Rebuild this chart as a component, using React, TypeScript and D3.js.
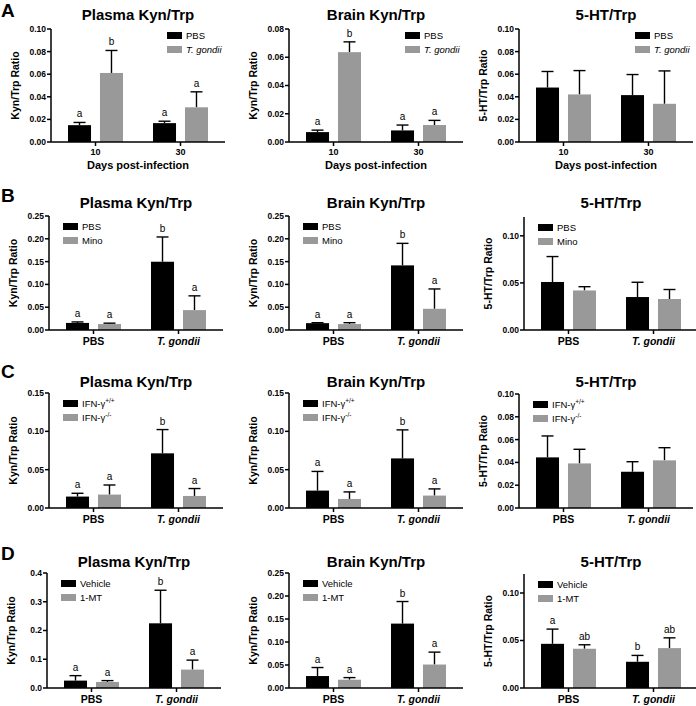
import React from "react";
import * as d3 from "d3";

// ---------- data ----------
const groupsA = ["10", "30"];
const groupsBCD = ["PBS", "T. gondii"];
const seriesA = ["PBS", "T. gondii"];
const seriesB = ["PBS", "Mino"];
const seriesC = ["IFN-γ+/+", "IFN-γ-/-"];
const seriesD = ["Vehicle", "1-MT"];

// values in order: [group1-series1, group1-series2, group2-series1, group2-series2]
const plasmaA = [0.0149, 0.0611, 0.0167, 0.0307];
const plasmaAErr = [0.0024, 0.0199, 0.0017, 0.0137];
const brainA = [0.007, 0.0636, 0.0082, 0.012];
const brainAErr = [0.0014, 0.0073, 0.0038, 0.0033];
const htA = [0.0482, 0.0421, 0.0415, 0.0338];
const htAErr = [0.0142, 0.0211, 0.0182, 0.0291];

const plasmaB = [0.0155, 0.013, 0.1497, 0.0436];
const plasmaBErr = [0.0022, 0.002, 0.0543, 0.0313];
const brainB = [0.015, 0.013, 0.1417, 0.0465];
const brainBErr = [0.001, 0.003, 0.0483, 0.0435];
const htB = [0.051, 0.042, 0.035, 0.0329];
const htBErr = [0.027, 0.004, 0.0157, 0.0101];

const plasmaC = [0.0149, 0.0175, 0.0713, 0.0157];
const plasmaCErr = [0.0043, 0.0125, 0.031, 0.0097];
const brainC = [0.0227, 0.0118, 0.0647, 0.0162];
const brainCErr = [0.025, 0.0092, 0.0372, 0.0087];
const htC = [0.0444, 0.0391, 0.0318, 0.0418];
const htCErr = [0.0188, 0.0124, 0.0088, 0.0111];

const plasmaD = [0.0257, 0.021, 0.225, 0.064];
const plasmaDErr = [0.0173, 0.0047, 0.115, 0.033];
const brainD = [0.026, 0.018, 0.14, 0.051];
const brainDErr = [0.0185, 0.0046, 0.048, 0.027];
const htD = [0.0465, 0.0413, 0.0276, 0.042];
const htDErr = [0.0155, 0.0042, 0.0067, 0.0108];

const lettersKyn = ["a", "b", "a", "a"];
const lettersKyn2 = ["a", "a", "b", "a"];
const lettersHtD = ["a", "ab", "b", "ab"];

const yTicks01 = [0, 0.02, 0.04, 0.06, 0.08, 0.1];
const yTicks008 = [0, 0.02, 0.04, 0.06, 0.08];
const yTicks025 = [0, 0.05, 0.1, 0.15, 0.2, 0.25];
const yTicks015 = [0, 0.05, 0.1, 0.15];
const yTicks012 = [0, 0.05, 0.1];
const yTicks04 = [0, 0.1, 0.2, 0.3, 0.4];

// ---------- layout ----------
const FONT = "'Liberation Sans', Arial, Helvetica, sans-serif";
const PLOT_W = 174;
const BLACK = "#000000";
const GRAY = "#999999";

type Cfg = {
  title: string;
  yTitle: string;
  axisX: number;
  yTop: number;
  yBottom: number;
  yMax: number;
  ticks: number[];
  fmt: string;
  groups: string[];
  series: string[];
  mean: number[];
  err: number[];
  letters?: string[];
  legendRight: boolean;
  xTitle?: string;
  titleY: number;
};

const rows: Cfg[][] = [
  [
    { title: "Plasma Kyn/Trp", yTitle: "Kyn/Trp Ratio", axisX: 51, yTop: 29, yBottom: 142, yMax: 0.1, ticks: yTicks01, fmt: ".2f", groups: groupsA, series: seriesA, mean: plasmaA, err: plasmaAErr, letters: lettersKyn, legendRight: true, xTitle: "Days post-infection", titleY: 20 },
    { title: "Brain Kyn/Trp", yTitle: "Kyn/Trp Ratio", axisX: 289, yTop: 29, yBottom: 142, yMax: 0.08, ticks: yTicks008, fmt: ".2f", groups: groupsA, series: seriesA, mean: brainA, err: brainAErr, letters: lettersKyn, legendRight: true, xTitle: "Days post-infection", titleY: 20 },
    { title: "5-HT/Trp", yTitle: "5-HT/Trp Ratio", axisX: 519, yTop: 29, yBottom: 142, yMax: 0.1, ticks: yTicks01, fmt: ".2f", groups: groupsA, series: seriesA, mean: htA, err: htAErr, legendRight: true, xTitle: "Days post-infection", titleY: 20 },
  ],
  [
    { title: "Plasma Kyn/Trp", yTitle: "Kyn/Trp Ratio", axisX: 49, yTop: 216, yBottom: 330, yMax: 0.25, ticks: yTicks025, fmt: ".2f", groups: groupsBCD, series: seriesB, mean: plasmaB, err: plasmaBErr, letters: lettersKyn2, legendRight: false, titleY: 208 },
    { title: "Brain Kyn/Trp", yTitle: "Kyn/Trp Ratio", axisX: 289, yTop: 216, yBottom: 330, yMax: 0.25, ticks: yTicks025, fmt: ".2f", groups: groupsBCD, series: seriesB, mean: brainB, err: brainBErr, letters: lettersKyn2, legendRight: false, titleY: 208 },
    { title: "5-HT/Trp", yTitle: "5-HT/Trp Ratio", axisX: 524, yTop: 217, yBottom: 330, yMax: 0.12, ticks: yTicks012, fmt: ".2f", groups: groupsBCD, series: seriesB, mean: htB, err: htBErr, legendRight: false, titleY: 208 },
  ],
  [
    { title: "Plasma Kyn/Trp", yTitle: "Kyn/Trp Ratio", axisX: 49, yTop: 393, yBottom: 508, yMax: 0.15, ticks: yTicks015, fmt: ".2f", groups: groupsBCD, series: seriesC, mean: plasmaC, err: plasmaCErr, letters: lettersKyn2, legendRight: false, titleY: 387 },
    { title: "Brain Kyn/Trp", yTitle: "Kyn/Trp Ratio", axisX: 289, yTop: 393, yBottom: 508, yMax: 0.15, ticks: yTicks015, fmt: ".2f", groups: groupsBCD, series: seriesC, mean: brainC, err: brainCErr, letters: lettersKyn2, legendRight: false, titleY: 387 },
    { title: "5-HT/Trp", yTitle: "5-HT/Trp Ratio", axisX: 519, yTop: 394, yBottom: 508, yMax: 0.1, ticks: yTicks01, fmt: ".2f", groups: groupsBCD, series: seriesC, mean: htC, err: htCErr, legendRight: false, titleY: 387 },
  ],
  [
    { title: "Plasma Kyn/Trp", yTitle: "Kyn/Trp Ratio", axisX: 47, yTop: 573, yBottom: 688, yMax: 0.4, ticks: yTicks04, fmt: ".1f", groups: groupsBCD, series: seriesD, mean: plasmaD, err: plasmaDErr, letters: lettersKyn2, legendRight: false, titleY: 567 },
    { title: "Brain Kyn/Trp", yTitle: "Kyn/Trp Ratio", axisX: 289, yTop: 573, yBottom: 688, yMax: 0.25, ticks: yTicks025, fmt: ".2f", groups: groupsBCD, series: seriesD, mean: brainD, err: brainDErr, letters: lettersKyn2, legendRight: false, titleY: 567 },
    { title: "5-HT/Trp", yTitle: "5-HT/Trp Ratio", axisX: 524, yTop: 574, yBottom: 688, yMax: 0.12, ticks: yTicks012, fmt: ".2f", groups: groupsBCD, series: seriesD, mean: htD, err: htDErr, letters: lettersHtD, legendRight: false, titleY: 567 },
  ],
];

const rowLetters = ["A", "B", "C", "D"];
const rowLetterY = [17, 202, 378, 560];

function SeriesLabel({ name, x, y }: { name: string; x: number; y: number }) {
  const m = name.match(/^(IFN-γ)(.*)$/);
  if (m) {
    return (
      <text x={x} y={y} fontSize={9.5} fontFamily={FONT}>
        {m[1]}
        <tspan fontSize={6.5} dy={-4}>{m[2]}</tspan>
      </text>
    );
  }
  const italic = name === "T. gondii";
  return (
    <text x={x} y={y} fontSize={9.5} fontFamily={FONT} fontStyle={italic ? "italic" : "normal"}>
      {name}
    </text>
  );
}

function Panel({ cfg }: { cfg: Cfg }) {
  const x0 = cfg.axisX;
  const x1 = cfg.axisX + PLOT_W;
  const y = d3.scaleLinear().domain([0, cfg.yMax]).range([cfg.yBottom, cfg.yTop]);
  const xg = d3.scaleBand().domain(cfg.groups).range([x0, x1]).paddingInner(0.353).paddingOuter(0.2);
  const xs = d3.scaleBand().domain(cfg.series).range([0, xg.bandwidth()]).paddingInner(0.28);
  const fmt = d3.format(cfg.fmt);
  const colors = [BLACK, GRAY];
  const cx = (x0 + x1) / 2;
  const legX = cfg.legendRight ? x0 + 116 : x0 + 14;
  const legY = cfg.legendRight ? cfg.yTop + 3 : cfg.yTop + 7;

  const bars: React.ReactNode[] = [];
  cfg.groups.forEach((g, gi) => {
    cfg.series.forEach((s, si) => {
      const i = gi * cfg.series.length + si;
      const bx = (xg(g) as number) + (xs(s) as number);
      const bw = xs.bandwidth();
      const top = y(cfg.mean[i]);
      const et = y(cfg.mean[i] + cfg.err[i]);
      const mx = bx + bw / 2;
      bars.push(
        <g key={`b${i}`}>
          <line x1={mx} x2={mx} y1={top} y2={et} stroke={BLACK} strokeWidth={1.4} />
          <line x1={mx - 6} x2={mx + 6} y1={et} y2={et} stroke={BLACK} strokeWidth={1.4} />
          <rect x={bx} y={top} width={bw} height={cfg.yBottom - top} fill={colors[si]} />
          {cfg.letters ? (
            <text x={mx} y={et - 5} textAnchor="middle" fontSize={10} fontFamily={FONT}>
              {cfg.letters[i]}
            </text>
          ) : null}
        </g>
      );
    });
  });

  return (
    <g>
      <text x={cx} y={cfg.titleY} textAnchor="middle" fontSize={15} fontWeight="bold" fontFamily={FONT}>
        {cfg.title}
      </text>
      <text
        transform={`translate(${x0 - 32},${(cfg.yTop + cfg.yBottom) / 2}) rotate(-90)`}
        textAnchor="middle"
        fontSize={10.5}
        fontWeight="bold"
        fontFamily={FONT}
      >
        {cfg.yTitle}
      </text>
      {bars}
      {/* y axis */}
      <line x1={x0} x2={x0} y1={cfg.yTop} y2={cfg.yBottom} stroke={BLACK} strokeWidth={1.5} />
      {cfg.ticks.map((t) => (
        <g key={`t${t}`}>
          <line x1={x0 - 4} x2={x0} y1={y(t)} y2={y(t)} stroke={BLACK} strokeWidth={1.5} />
          <text x={x0 - 5} y={y(t)} dy="0.35em" textAnchor="end" fontSize={8.5} fontWeight="bold" fontFamily={FONT}>
            {fmt(t)}
          </text>
        </g>
      ))}
      {/* x axis */}
      <line x1={x0} x2={x1} y1={cfg.yBottom} y2={cfg.yBottom} stroke={BLACK} strokeWidth={1.5} />
      {cfg.groups.map((g) => {
        const gx = (xg(g) as number) + xg.bandwidth() / 2;
        return (
          <g key={`g${g}`}>
            <line x1={gx} x2={gx} y1={cfg.yBottom} y2={cfg.yBottom + 4} stroke={BLACK} strokeWidth={1.5} />
            <text
              x={gx}
              y={cfg.yBottom + (cfg.xTitle ? 13 : 15)}
              textAnchor="middle"
              fontSize={cfg.xTitle ? 9 : 10.5}
              fontWeight="bold"
              fontStyle={g === "T. gondii" ? "italic" : "normal"}
              fontFamily={FONT}
            >
              {g}
            </text>
          </g>
        );
      })}
      {cfg.xTitle ? (
        <text x={cx} y={cfg.yBottom + 27} textAnchor="middle" fontSize={11} fontWeight="bold" fontFamily={FONT}>
          {cfg.xTitle}
        </text>
      ) : null}
      {/* legend */}
      {cfg.series.map((s, si) => (
        <g key={`l${s}`}>
          <rect x={legX} y={legY + si * 14} width={15} height={7} fill={colors[si]} />
          <SeriesLabel name={s} x={legX + 19} y={legY + si * 14 + 7} />
        </g>
      ))}
    </g>
  );
}

export default function App() {
  return (
    <svg
      width={696}
      height={706}
      style={{ position: "absolute", left: 0, top: 0, background: "#fff" }}
    >
      <rect width={696} height={706} fill="#fff" />
      {rows.map((row, ri) => (
        <g key={`r${ri}`}>
          <text x={1} y={rowLetterY[ri]} fontSize={19} fontWeight="bold" fontFamily={FONT}>
            {rowLetters[ri]}
          </text>
          {row.map((cfg, ci) => (
            <Panel key={`p${ri}${ci}`} cfg={cfg} />
          ))}
        </g>
      ))}
    </svg>
  );
}
